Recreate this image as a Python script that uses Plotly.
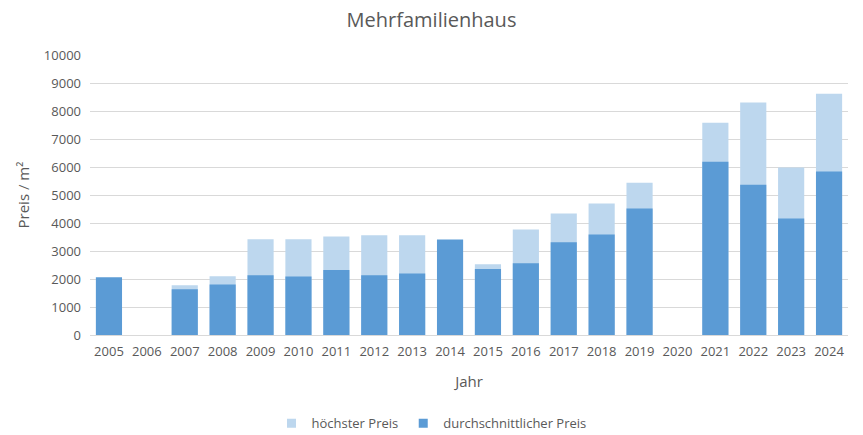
import plotly.graph_objects as go

years = [str(y) for y in range(2005, 2025)]
avg_price = [2060, None, 1630, 1800, 2130, 2090, 2320, 2130, 2200, 3410, 2360, 2560,
             3310, 3590, 4520, None, 6190, 5370, 4160, 5840]
max_price = [None, None, 1780, 2100, 3420, 3420, 3520, 3560, 3560, None, 2530, 3770,
             4340, 4700, 5440, None, 7580, 8300, 5980, 8620]

font = "Open Sans"
gray = "#595959"
light = "#BDD7EE"
dark = "#5B9BD5"

fig = go.Figure()
fig.add_trace(go.Bar(x=years, y=max_price, name="höchster Preis", showlegend=False,
                     marker=dict(color=light, line=dict(width=0))))
fig.add_trace(go.Bar(x=years, y=avg_price, name="durchschnittlicher Preis", showlegend=False,
                     marker=dict(color=dark, line=dict(width=0))))
# legend entries with small square symbols
fig.add_trace(go.Scatter(x=[None], y=[None], mode="markers", name="höchster Preis",
                         marker=dict(symbol="square", size=9, color=light)))
fig.add_trace(go.Scatter(x=[None], y=[None], mode="markers", name="durchschnittlicher Preis",
                         marker=dict(symbol="square", size=9, color=dark)))

fig.update_layout(
    width=863, height=435,
    barmode="overlay", bargap=0.31,
    plot_bgcolor="white", paper_bgcolor="white",
    margin=dict(l=90, r=15, t=55, b=100, autoexpand=False),
    font=dict(family=font, size=13, color=gray),
    title=dict(text="Mehrfamilienhaus", x=0.5, xanchor="center", y=0.953, yanchor="middle",
               font=dict(family=font, size=20, color=gray)),
    legend=dict(orientation="h", x=0.5, xanchor="center", xref="container",
                y=0.027, yanchor="middle", yref="container",
                font=dict(family=font, size=13, color=gray), traceorder="normal",
                itemwidth=30),
    showlegend=True,
)
fig.update_xaxes(type="category", showgrid=False, showline=True, linecolor="#D9D9D9",
                 ticks="", tickfont=dict(size=13, color=gray), automargin=False,
                 ticklabelstandoff=4,
                 title=dict(text="Jahr", font=dict(size=15, color=gray), standoff=17))
fig.update_yaxes(range=[0, 10000], dtick=1000, tickformat="d", showgrid=True,
                 gridcolor="#D9D9D9", zeroline=False, ticks="", automargin=False,
                 tickfont=dict(size=13, color=gray), ticklabelstandoff=8,
                 title=dict(text="Preis / m²", font=dict(size=15, color=gray), standoff=10))

fig.write_html("out.html")
